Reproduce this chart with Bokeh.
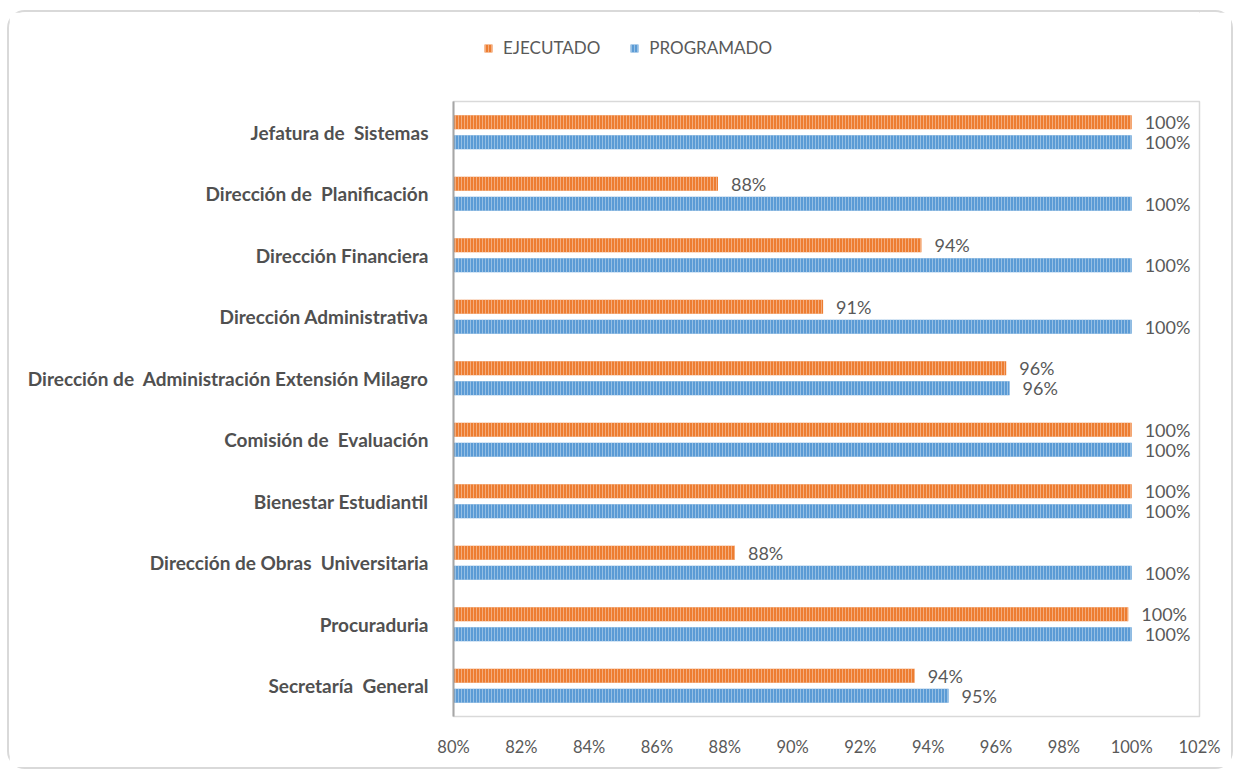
from bokeh.plotting import figure
from bokeh.layouts import column
from bokeh.models import Range1d, FactorRange, NumeralTickFormatter, FixedTicker, Legend, LegendItem, ColumnDataSource
from bokeh.transform import dodge
from bokeh.core.properties import value
from bokeh.embed import file_html
from bokeh.resources import INLINE

categories = [
    "Jefatura de  Sistemas",
    "Dirección de  Planificación",
    "Dirección Financiera",
    "Dirección Administrativa",
    "Dirección de  Administración Extensión Milagro",
    "Comisión de  Evaluación",
    "Bienestar Estudiantil",
    "Dirección de Obras  Universitaria",
    "Procuraduria",
    "Secretaría  General",
]
ejecutado = [1.00, 0.878, 0.938, 0.909, 0.963, 1.00, 1.00, 0.883, 0.999, 0.936]
programado = [1.00, 1.00, 1.00, 1.00, 0.964, 1.00, 1.00, 1.00, 1.00, 0.946]
x_ticks = [0.80, 0.82, 0.84, 0.86, 0.88, 0.90, 0.92, 0.94, 0.96, 0.98, 1.00, 1.02]
series_names = ["EJECUTADO", "PROGRAMADO"]

ORANGE = "#ED7D31"
BLUE = "#5B9BD5"
TXT = "#595959"
W = 1222
LEG_H = 72

# keep the visible double spaces of the original labels
shown = [c.replace("  ", "\u00a0 ") for c in categories]

src = ColumnDataSource(dict(
    cat=shown,
    ejec=ejecutado,
    prog=programado,
    ejec_lbl=[f"{round(v * 100)}%" for v in ejecutado],
    prog_lbl=[f"{round(v * 100)}%" for v in programado],
))

p = figure(
    width=W, height=755 - LEG_H,
    y_range=FactorRange(factors=list(reversed(shown))),
    x_range=Range1d(0.80, 1.02),
    output_backend="svg", toolbar_location=None,
    min_border_left=444, min_border_right=32, min_border_top=89 - LEG_H, min_border_bottom=51,
)

off = 0.163
hb = 0.23
hatch_kw = dict(hatch_pattern="vertical_line", hatch_alpha=0.6, hatch_scale=3, hatch_weight=1)
r1 = p.hbar(y=dodge("cat", off, range=p.y_range), left=0.80, right="ejec", height=hb,
            fill_color=ORANGE, line_color=None, hatch_color="#F8CBAD", source=src, **hatch_kw)
r2 = p.hbar(y=dodge("cat", -off, range=p.y_range), left=0.80, right="prog", height=hb,
            fill_color=BLUE, line_color=None, hatch_color="#BDD7EE", source=src, **hatch_kw)

lbl_kw = dict(x_offset=13, text_baseline="middle", text_font=value("Lato"),
              text_font_size="18px", text_color=TXT, source=src)
p.text(x="ejec", y=dodge("cat", off, range=p.y_range), text="ejec_lbl", **lbl_kw)
p.text(x="prog", y=dodge("cat", -off, range=p.y_range), text="prog_lbl", **lbl_kw)

p.xgrid.grid_line_color = None
p.ygrid.grid_line_color = None
p.outline_line_color = "#d9d9d9"
p.outline_line_width = 1.5

p.xaxis.ticker = FixedTicker(ticks=x_ticks)
p.xaxis.formatter = NumeralTickFormatter(format="0%")
p.xaxis.axis_line_color = None
p.xaxis.major_tick_line_color = None
p.xaxis.minor_tick_line_color = None
p.xaxis.major_label_text_font = "Lato"
p.xaxis.major_label_text_font_size = "16.5px"
p.xaxis.major_label_text_color = TXT
p.xaxis.major_label_standoff = 14

p.yaxis.axis_line_color = "#a6a6a6"
p.yaxis.axis_line_width = 2
p.yaxis.major_tick_line_color = None
p.yaxis.minor_tick_line_color = None
p.yaxis.major_label_text_font = "Lato"
p.yaxis.major_label_text_font_style = "bold"
p.yaxis.major_label_text_font_size = "19px"
p.yaxis.major_label_text_color = "#505050"
p.yaxis.major_label_standoff = 19

# legend strip above the plot (its frame is aligned with the main plot's frame)
lf = figure(width=W, height=LEG_H, x_range=Range1d(0, 1), y_range=Range1d(0, 1),
            output_backend="svg", toolbar_location=None, min_border=0)
lf.axis.visible = False
lf.grid.grid_line_color = None
lf.outline_line_color = None
# legend swatches: glyphs placed outside the visible range so only the legend shows them
l1 = lf.hbar(y=[5], left=[5], right=[6], height=0.1, fill_color=ORANGE, line_color=None,
             hatch_color="#F8CBAD", **hatch_kw)
l2 = lf.hbar(y=[5], left=[5], right=[6], height=0.1, fill_color=BLUE, line_color=None,
             hatch_color="#BDD7EE", **hatch_kw)
legend = Legend(
    items=[LegendItem(label=series_names[0], renderers=[l1]),
           LegendItem(label=series_names[1], renderers=[l2])],
    orientation="horizontal", location=(30, 26),
    label_text_font="Lato", label_text_font_size="17px", label_text_color=TXT,
    glyph_width=10, glyph_height=10, spacing=29, label_standoff=10, padding=0, margin=0,
    border_line_color=None, background_fill_alpha=0,
)
lf.add_layout(legend)

layout = column(lf, p, spacing=0)
layout.styles = {"border": "2px solid #d9d9d9", "border-radius": "18px",
                 "margin-left": "7px", "margin-top": "10px"}

open("out.html", "w").write(file_html(layout, INLINE))
